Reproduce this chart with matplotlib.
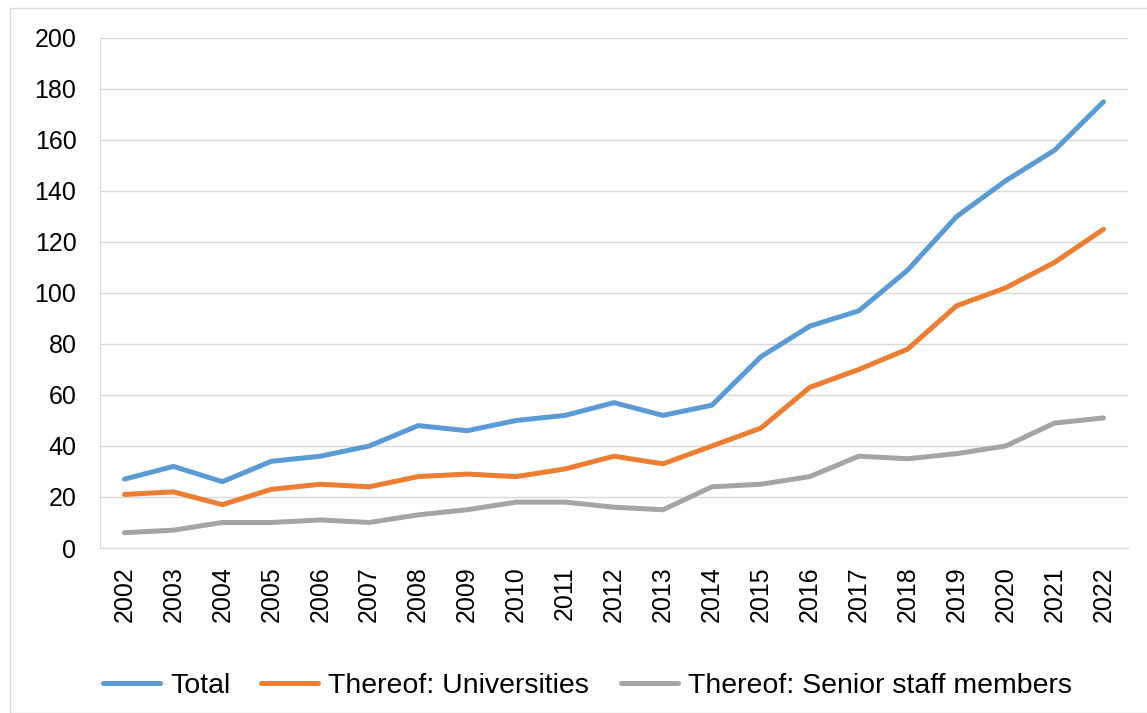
import matplotlib
matplotlib.use("Agg")
import matplotlib.pyplot as plt
from matplotlib.patches import Rectangle

years = list(range(2002, 2023))
total = [27, 32, 26, 34, 36, 40, 48, 46, 50, 52, 57, 52, 56, 75, 87, 93, 109, 130, 144, 156, 175]
universities = [21, 22, 17, 23, 25, 24, 28, 29, 28, 31, 36, 33, 40, 47, 63, 70, 78, 95, 102, 112, 125]
senior = [6, 7, 10, 10, 11, 10, 13, 15, 18, 18, 16, 15, 24, 25, 28, 36, 35, 37, 40, 49, 51]
labels = ["Total", "Thereof: Universities", "Thereof: Senior staff members"]
colors = ["#5B9BD5", "#ED7D31", "#A5A5A5"]

plt.rcParams['font.family'] = ['Liberation Sans', 'DejaVu Sans']

fig = plt.figure(figsize=(11.47, 7.13), dpi=100)
ax = fig.add_axes([100/1147, 1-548/713, 1028/1147, 510/713])

for vals, lab, c in zip([total, universities, senior], labels, colors):
    ax.plot(years, vals, color=c, lw=3.6, label=lab, solid_capstyle='round', solid_joinstyle='round')

ax.set_xlim(2001.5, 2022.5)
ax.set_ylim(0, 200)
ax.set_yticks(range(0, 201, 20))
ax.set_xticks(years)
ax.set_xticklabels([str(y) for y in years], rotation=90)
ax.tick_params(axis='both', length=0, labelsize=18, colors='#000000')
ax.tick_params(axis='y', pad=17)
ax.tick_params(axis='x', pad=13)
ax.grid(axis='y', color='#D9D9D9', lw=1)
ax.set_axisbelow(True)
for s in ['top', 'right']:
    ax.spines[s].set_visible(False)
ax.spines['left'].set_color('#D9D9D9')
ax.spines['bottom'].set_color('#D9D9D9')

fig.legend(loc='center', bbox_to_anchor=(0.512, 1-686/713), ncol=3, frameon=False,
           fontsize=20.5, handlelength=2.0, columnspacing=1.1, handletextpad=0.35)

fig.patches.append(Rectangle((10/1147, 0.0), 1.2, 1-8/713, transform=fig.transFigure,
                             fill=False, edgecolor='#D9D9D9', lw=1))

fig.savefig("out.png", dpi=100)
